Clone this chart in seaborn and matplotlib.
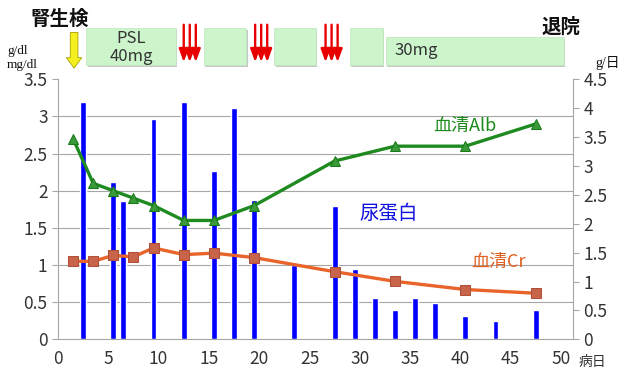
import numpy as np
import matplotlib
matplotlib.use('Agg')
import matplotlib.pyplot as plt
import matplotlib.transforms as mtransforms
from matplotlib.patches import Rectangle
import seaborn as sns

# 血清Alb / 血清Cr (左軸 g/dl, mg/dl)
lab_days = [1.5, 3.5, 5.5, 7.5, 9.5, 12.5, 15.5, 19.5, 27.5, 33.5, 40.5, 47.5]
alb_vals = [2.7, 2.1, 2.0, 1.9, 1.8, 1.6, 1.6, 1.8, 2.4, 2.6, 2.6, 2.9]
cr_vals = [1.05, 1.05, 1.13, 1.11, 1.23, 1.14, 1.16, 1.10, 0.91, 0.78, 0.67, 0.62]

# 尿蛋白 (右軸 g/日)
up_days = [2.5, 5.5, 6.5, 9.5, 12.5, 15.5, 17.5, 19.5, 23.5, 27.5, 29.5,
           31.5, 33.5, 35.5, 37.5, 40.5, 43.5, 47.5]
up_vals = [4.1, 2.72, 2.4, 3.81, 4.1, 2.91, 4.0, 2.41, 1.29, 2.31, 1.21,
           0.72, 0.51, 0.72, 0.62, 0.41, 0.32, 0.51]

# 治療経過 (病日)
psl40_boxes = [(2.8, 11.7), (14.5, 18.7), (21.5, 25.6), (29.0, 32.3)]
psl30_box = (32.6, 50.3)
pulse_days = [13.1, 20.2, 27.2]
biopsy_day = 1.6

x_ticks = list(range(0, 51, 5))
left_ticks = [0, 0.5, 1, 1.5, 2, 2.5, 3, 3.5]
left_labels = ['0', '0.5', '1', '1.5', '2', '2.5', '3', '3.5']
right_ticks = [0, 0.5, 1, 1.5, 2, 2.5, 3, 3.5, 4, 4.5]
right_labels = ['0', '0.5', '1', '1.5', '2', '2.5', '3', '3.5', '4', '4.5']

sns.set_style('white')
plt.rcParams['font.family'] = ['Noto Sans CJK JP', 'DejaVu Sans']

grey = '#a6a6a6'
txt = '#333333'

fig = plt.figure(figsize=(6.25, 3.69), dpi=100)
ax = fig.add_axes([0.0928, 0.0805, 0.8240, 0.7045])
ax2 = ax.twinx()

# 棒グラフ (尿蛋白) は下の軸、右目盛り
sns.barplot(x=up_days, y=up_vals, native_scale=True, width=0.58, color='#0000ff',
            saturation=1, errorbar=None, ax=ax, zorder=2)

# 折れ線 (Alb, Cr) は上の軸、左目盛り
sns.lineplot(x=lab_days, y=alb_vals, ax=ax2, color='#1f8a1f', lw=2.4, marker='^',
             markersize=7, markerfacecolor='#3a9a3a', markeredgecolor='#1a7a1a')
sns.lineplot(x=lab_days, y=cr_vals, ax=ax2, color='#e8642a', lw=2.4, marker='s',
             markersize=6.5, markerfacecolor='#c8644a', markeredgecolor='#b0503a')

ax.set_xlim(0, 51.2)
ax.set_ylim(0, 4.5)
ax2.set_ylim(0, 3.5)

ax.yaxis.tick_right()
ax2.yaxis.tick_left()

ax.set_xticks(x_ticks)
ax.set_xticklabels([str(t) for t in x_ticks])
ax.set_yticks(right_ticks)
ax.set_yticklabels(right_labels)
ax2.set_yticks(left_ticks)
ax2.set_yticklabels(left_labels)

# 横グリッドは左軸の目盛り位置
ax.set_yticks(np.linspace(0, 4.5, 8), minor=True)
ax.grid(False)
ax.grid(which='minor', axis='y', color=grey, lw=0.8)
ax.set_axisbelow(True)
ax.tick_params(which='minor', length=0)

ax.tick_params(axis='both', which='major', length=4, width=0.8, color=grey,
               labelsize=12.5, labelcolor=txt, pad=3.5, direction='out')
ax2.tick_params(axis='y', length=4, width=0.8, color=grey, labelsize=12.5,
                labelcolor=txt, pad=3.5, direction='out')
ax.set_xlabel('')
ax.set_ylabel('')
ax2.set_ylabel('')

for s in ax.spines.values():
    s.set_visible(False)
for name, s in ax2.spines.items():
    s.set_color(grey)
    s.set_linewidth(0.8)
ax2.spines['top'].set_visible(False)

ax2.text(40.5, 2.87, '血清Alb', color='#1a8a1a', fontsize=13, ha='center', va='center')
ax2.text(32.9, 1.69, '尿蛋白', color='#1010e0', fontsize=14, ha='center', va='center')
ax2.text(43.8, 1.04, '血清Cr', color='#e06020', fontsize=13, ha='center', va='center')

# 上部の治療経過
trans = mtransforms.blended_transform_factory(ax.transData, ax.transAxes)
box_fc = '#ccf5cc'
for x0, x1 in psl40_boxes:
    ax.add_patch(Rectangle((x0 + 0.15, 1.049), x1 - x0, 0.142, transform=trans,
                           fc='#c8c8c8', ec='none', clip_on=False))
    ax.add_patch(Rectangle((x0, 1.055), x1 - x0, 0.142, transform=trans,
                           fc=box_fc, ec='#bfe6bf', lw=0.5, clip_on=False))
x0, x1 = psl30_box
ax.add_patch(Rectangle((x0 + 0.15, 1.049), x1 - x0, 0.108, transform=trans,
                       fc='#c8c8c8', ec='none', clip_on=False))
ax.add_patch(Rectangle((x0, 1.055), x1 - x0, 0.108, transform=trans,
                       fc=box_fc, ec='#bfe6bf', lw=0.5, clip_on=False))

ax.text(7.25, 1.157, 'PSL', transform=trans, ha='center', va='center', fontsize=12, color=txt)
ax.text(7.25, 1.088, '40mg', transform=trans, ha='center', va='center', fontsize=12, color=txt)
ax.text(33.5, 1.109, '30mg', transform=trans, ha='left', va='center', fontsize=12, color=txt)

# ステロイドパルス (赤い矢印 3 本ずつ)
for d in pulse_days:
    for off in (-0.6, 0, 0.6):
        ax.annotate('', xy=(d + off, 1.066), xytext=(d + off, 1.21), xycoords=trans,
                    textcoords=trans, annotation_clip=False,
                    arrowprops=dict(arrowstyle='-|>,head_length=0.55,head_width=0.2',
                                    mutation_scale=14, color='#e80000', lw=1.7,
                                    shrinkA=0, shrinkB=0))

ax.annotate('', xy=(biopsy_day, 1.043), xytext=(biopsy_day, 1.18), xycoords=trans,
            textcoords=trans, annotation_clip=False,
            arrowprops=dict(arrowstyle='simple,head_length=0.75,head_width=1.1,tail_width=0.55',
                            mutation_scale=10, fc='#f4f020', ec='#a8a000', lw=0.6,
                            shrinkA=0, shrinkB=0))

ax.text(0.2, 1.232, '腎生検', transform=trans, ha='center', va='center',
        fontsize=14, fontweight='bold', color='#111111')
ax.text(50.0, 1.201, '退院', transform=trans, ha='center', va='center',
        fontsize=14, fontweight='bold', color='#111111')

serif = ['Liberation Serif', 'Noto Sans CJK JP']
fig.text(0.011, 0.862, 'g/dl', family=serif, fontsize=9.5, va='center', color='#111111')
fig.text(0.011, 0.824, 'mg/dl', family=serif, fontsize=9.5, va='center', color='#111111')
fig.text(0.952, 0.829, 'g/日', family=serif, fontsize=10, va='center', color='#111111')
fig.text(0.925, 0.02, '病日', fontsize=10, va='center', color=txt)

fig.savefig('out.png', dpi=100)
